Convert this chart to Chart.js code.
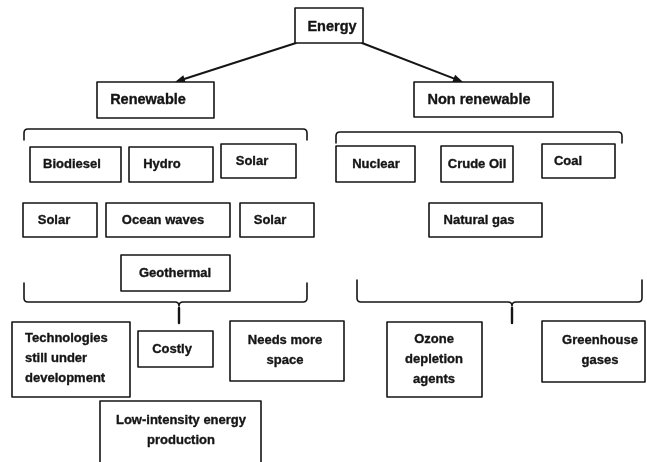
<!DOCTYPE html>
<html>
<head>
<meta charset="utf-8">
<script src="https://cdn.jsdelivr.net/npm/chart.js@4.4.1/dist/chart.umd.min.js"></script>
<style>
    html, body { margin: 0; padding: 0; background: #fff; }
    #wrap { width: 647px; height: 462px; position: relative; }
</style>
</head>
<body>
<div id="wrap"><canvas id="energyTree"></canvas></div>
<script>
// node texts ("\n" splits lines)
const nodeNames = [
    'Energy', 'Renewable', 'Non renewable',
    'Biodiesel', 'Hydro', 'Solar', 'Nuclear', 'Crude Oil', 'Coal',
    'Solar', 'Ocean waves', 'Solar', 'Natural gas', 'Geothermal',
    'Technologies\nstill under\ndevelopment', 'Costly', 'Needs more\nspace',
    'Low-intensity energy\nproduction', 'Ozone\ndepletion\nagents', 'Greenhouse\ngases'
];

// box edges in diagram units (x grows right, y grows down)
const boxLeft   = [295,  97, 414,  30, 129, 221, 336, 441, 542,  23, 106, 240, 429, 121,  12, 138, 230, 100, 387, 542];
const boxRight  = [363, 214, 553, 121, 213, 296, 415, 513, 615,  97, 230, 314, 542, 230, 130, 213, 344, 261, 482, 645];
const boxTop    = [  8,  82,  82, 147, 147, 144, 146, 146, 144, 203, 203, 203, 203, 255, 322, 331, 321, 401, 322, 321];
const boxBottom = [ 43, 118, 117, 182, 182, 178, 182, 182, 178, 237, 237, 237, 237, 291, 397, 367, 381, 470, 397, 382];

// where each label sits inside its box
const textX = [332, 148, 479,  72, 162, 252, 376, 477, 568,  54, 163, 270, 479, 175,  25, 172, 285, 181, 434, 600];
const textY = [ 27, 100, 100, 164, 164, 161, 164, 164, 161, 220, 220, 220, 220, 273, 358, 349, 350, 430, 359, 350];
const textAlign = nodeNames.map((n, i) => i === 14 ? 'left' : 'center');

// arrows from Energy: [x1, y1, x2, y2]
const arrows = [
    [296, 43, 175, 82],
    [362, 43, 463, 82]
];

// brackets: [left, right, lineY, tipY, centreX (or null), centreTipY]
const brackets = [
    [24, 307, 129, 140, null, null],
    [336, 622, 132, 143, null, null],
    [24, 307, 302, 283, 179, 323],
    [357, 642, 302, 280, 512, 323]
];

const diagramPlugin = {
    id: 'diagram',
    afterDatasetsDraw(chart) {
        const ctx = chart.ctx;
        const sx = v => chart.scales.x.getPixelForValue(v);
        const sy = v => chart.scales.y.getPixelForValue(v);
        ctx.save();
        ctx.strokeStyle = '#151515';
        ctx.fillStyle = '#151515';
        ctx.lineJoin = 'round';
        ctx.lineCap = 'round';

        // arrows
        ctx.lineWidth = 2;
        arrows.forEach(a => {
            const x1 = sx(a[0]), y1 = sy(a[1]), x2 = sx(a[2]), y2 = sy(a[3]);
            const ang = Math.atan2(y2 - y1, x2 - x1);
            ctx.beginPath();
            ctx.moveTo(x1, y1);
            ctx.lineTo(x2 - 8 * Math.cos(ang), y2 - 8 * Math.sin(ang));
            ctx.stroke();
            ctx.beginPath();
            ctx.moveTo(x2, y2);
            ctx.lineTo(x2 - 10 * Math.cos(ang) + 4 * Math.sin(ang), y2 - 10 * Math.sin(ang) - 4 * Math.cos(ang));
            ctx.lineTo(x2 - 10 * Math.cos(ang) - 4 * Math.sin(ang), y2 - 10 * Math.sin(ang) + 4 * Math.cos(ang));
            ctx.closePath();
            ctx.fill();
        });

        // brackets
        brackets.forEach(b => {
            const l = sx(b[0]), r = sx(b[1]), ly = sy(b[2]), ty = sy(b[3]);
            const rad = 4;
            const dir = ty > ly ? 1 : -1;
            ctx.lineWidth = 1.6;
            ctx.beginPath();
            ctx.moveTo(l, ty);
            ctx.lineTo(l, ly + dir * rad);
            ctx.quadraticCurveTo(l, ly, l + rad, ly);
            if (b[4] !== null) {
                const c = sx(b[4]);
                ctx.lineTo(c - rad, ly);
                ctx.quadraticCurveTo(c, ly, c, ly + 4);
                ctx.quadraticCurveTo(c, ly, c + rad, ly);
            }
            ctx.lineTo(r - rad, ly);
            ctx.quadraticCurveTo(r, ly, r, ly + dir * rad);
            ctx.lineTo(r, ty);
            ctx.stroke();
            if (b[4] !== null) {
                const c = sx(b[4]);
                ctx.lineWidth = 2.4;
                ctx.beginPath();
                ctx.moveTo(c, ly + 6);
                ctx.lineTo(c, sy(b[5]));
                ctx.stroke();
            }
        });

        // boxes and labels
        ctx.textBaseline = 'middle';
        nodeNames.forEach((name, i) => {
            const x0 = sx(boxLeft[i]), x1 = sx(boxRight[i]);
            const y0 = sy(boxTop[i]), y1 = sy(boxBottom[i]);
            ctx.fillStyle = '#fff';
            ctx.fillRect(x0, y0, x1 - x0, y1 - y0);
            ctx.lineWidth = 1.6;
            ctx.strokeStyle = '#151515';
            ctx.strokeRect(x0, y0, x1 - x0, y1 - y0);

            ctx.font = i < 3 ? 'bold 14.5px "Liberation Sans", Arial, sans-serif'
                             : 'bold 13px "Liberation Sans", Arial, sans-serif';
            ctx.fillStyle = '#151515';
            ctx.strokeStyle = '#151515';
            ctx.lineWidth = 0.35;
            ctx.textAlign = textAlign[i];
            const lines = name.split('\n');
            const lh = 20;
            lines.forEach((ln, k) => {
                const yy = sy(textY[i] + (k - (lines.length - 1) / 2) * lh);
                ctx.fillText(ln, sx(textX[i]), yy);
                ctx.strokeText(ln, sx(textX[i]), yy);
            });
        });
        ctx.restore();
    }
};

document.addEventListener('DOMContentLoaded', () => {
    const ctx = document.getElementById('energyTree').getContext('2d');
    new Chart(ctx, {
        type: 'scatter',
        data: {
            datasets: [{
                data: nodeNames.map((n, i) => ({
                    x: (boxLeft[i] + boxRight[i]) / 2,
                    y: (boxTop[i] + boxBottom[i]) / 2
                })),
                pointRadius: 0,
                pointHoverRadius: 0
            }]
        },
        options: {
            responsive: true,
            maintainAspectRatio: false,
            animation: false,
            events: [],
            layout: { padding: 0 },
            scales: {
                x: { type: 'linear', min: 0, max: 647, display: false },
                y: { type: 'linear', min: 0, max: 462, reverse: true, display: false }
            },
            plugins: {
                legend: { display: false },
                tooltip: { enabled: false }
            }
        },
        plugins: [diagramPlugin]
    });
});
</script>
</body>
</html>
